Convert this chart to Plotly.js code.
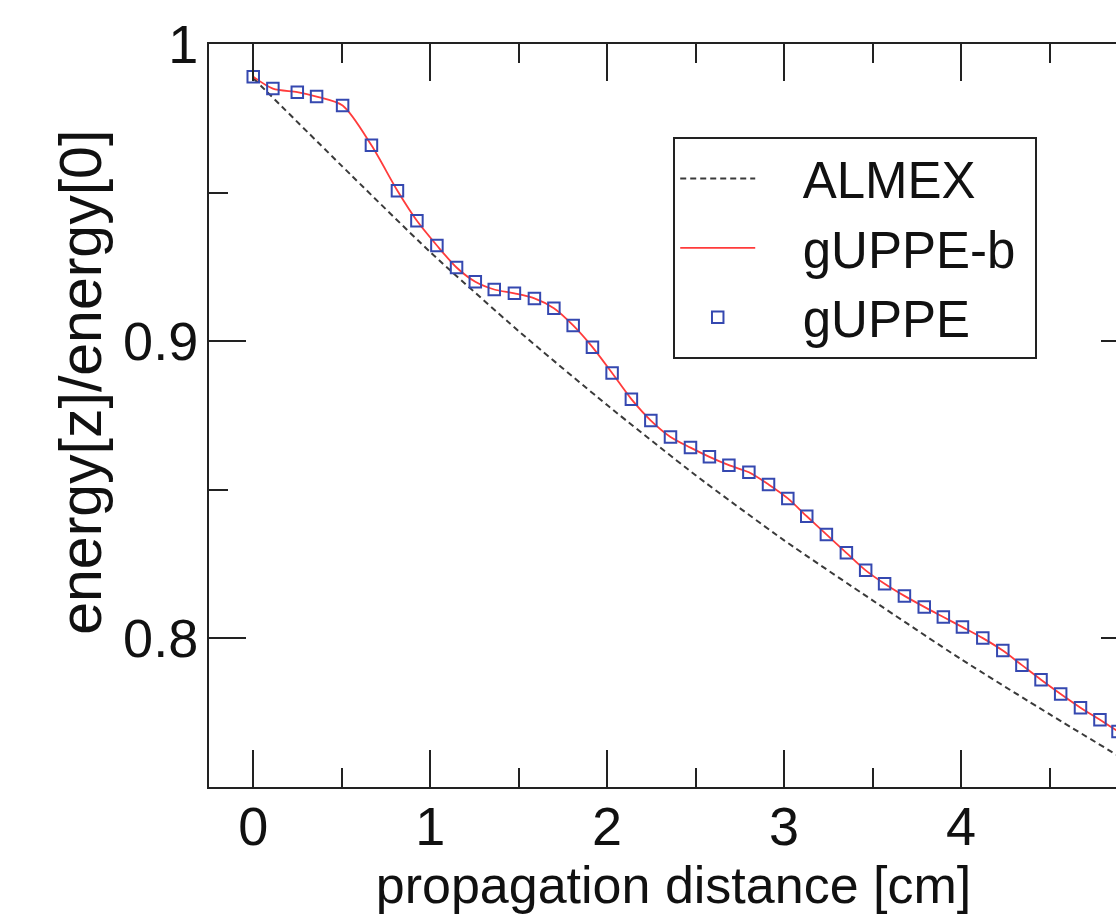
<!DOCTYPE html>
<html>
<head>
<meta charset="utf-8">
<script src="https://cdn.plot.ly/plotly-3.0.1.min.js"></script>
<style>
html,body{margin:0;padding:0;overflow:hidden;background:#fff;}
#chart{width:1200px;height:918px;}
</style>
</head>
<body>
<div id="chart"></div>
<script>
// ALMEX (dashed)
const almexX = [0, 0.5, 1.0, 1.5, 2.0, 2.5, 3.0, 3.5, 4.0, 4.5, 5.0];
const almexY = [0.9885, 0.9590, 0.9300, 0.9034, 0.8785, 0.8549, 0.8330, 0.8128, 0.7930, 0.7745, 0.7565];

// gUPPE-b (solid red)
const guppebX = [0, 0.111, 0.249, 0.358, 0.505, 0.668, 0.815, 0.925, 1.038, 1.149, 1.255, 1.362, 1.476, 1.589, 1.699, 1.808, 1.917, 2.028, 2.137, 2.247, 2.358, 2.471, 2.578, 2.688, 2.801, 2.912, 3.021, 3.128, 3.239, 3.352, 3.461, 3.568, 3.680, 3.792, 3.900, 4.008, 4.123, 4.236, 4.344, 4.452, 4.563, 4.675, 4.785, 4.887, 5.0];
const guppebY = [0.9890, 0.9850, 0.9838, 0.9823, 0.9793, 0.9659, 0.9506, 0.9405, 0.9322, 0.9248, 0.9200, 0.9174, 0.9161, 0.9144, 0.9111, 0.9053, 0.8980, 0.8893, 0.8805, 0.8733, 0.8678, 0.8642, 0.8611, 0.8583, 0.8559, 0.8518, 0.8471, 0.8411, 0.8350, 0.8288, 0.8229, 0.8184, 0.8143, 0.8106, 0.8072, 0.8038, 0.8001, 0.7959, 0.7910, 0.7861, 0.7813, 0.7767, 0.7726, 0.7687, 0.7648];

// gUPPE (open squares)
const guppeX = [0, 0.111, 0.249, 0.358, 0.505, 0.668, 0.815, 0.925, 1.038, 1.149, 1.255, 1.362, 1.476, 1.589, 1.699, 1.808, 1.917, 2.028, 2.137, 2.247, 2.358, 2.471, 2.578, 2.688, 2.801, 2.912, 3.021, 3.128, 3.239, 3.352, 3.461, 3.568, 3.680, 3.792, 3.900, 4.008, 4.123, 4.236, 4.344, 4.452, 4.563, 4.675, 4.785, 4.887];
const guppeY = [0.9890, 0.9850, 0.9838, 0.9823, 0.9793, 0.9659, 0.9506, 0.9405, 0.9322, 0.9248, 0.9200, 0.9174, 0.9161, 0.9144, 0.9111, 0.9053, 0.8980, 0.8893, 0.8805, 0.8733, 0.8678, 0.8642, 0.8611, 0.8583, 0.8559, 0.8518, 0.8471, 0.8411, 0.8350, 0.8288, 0.8229, 0.8184, 0.8143, 0.8106, 0.8072, 0.8038, 0.8001, 0.7959, 0.7910, 0.7861, 0.7813, 0.7767, 0.7726, 0.7687];

const seriesNames = ["ALMEX", "gUPPE-b", "gUPPE"];
const xTickVals = [0, 1, 2, 3, 4];
const yTickVals = [0.8, 0.9, 1.0];
const yTickText = ["0.8", "0.9", "1"];
const xTitle = "propagation distance [cm]";
const yTitle = "energy[z]/energy[0]";

const FONT = "Liberation Sans, Arial, Helvetica, sans-serif";
const PAD = "\u00a0\u00a0\u00a0";
const TAIL = "\u00a0";

const traces = [
  {x: almexX, y: almexY, name: PAD + seriesNames[0] + TAIL, type: "scatter", mode: "lines",
   line: {color: "#3a3a3a", width: 2, dash: "6px,4px", shape: "spline", smoothing: 0.6}},
  {x: guppebX, y: guppebY, name: PAD + seriesNames[1] + TAIL, type: "scatter", mode: "lines",
   line: {color: "#ff3b3b", width: 1.8, shape: "spline", smoothing: 0.8}},
  {x: guppeX, y: guppeY, name: PAD + seriesNames[2] + TAIL, type: "scatter", mode: "markers",
   marker: {symbol: "square-open", size: 11.5, color: "#3548b0", line: {width: 2, color: "#3548b0"}}}
];

const axisCommon = {
  showline: true, linecolor: "#222", linewidth: 2, mirror: "allticks",
  ticks: "inside", ticklen: 37, tickwidth: 2, tickcolor: "#222",
  showgrid: false, zeroline: false,
  tickfont: {family: FONT, size: 54, color: "#111"}
};

const layout = {
  width: 1200, height: 918,
  margin: {l: 208.5, r: 62, t: 44, b: 131},
  paper_bgcolor: "#fff", plot_bgcolor: "#fff",
  font: {family: FONT, color: "#111"},
  showlegend: true,
  legend: {
    x: 0.4997, y: 0.875, xanchor: "left", yanchor: "top",
    bordercolor: "#222", borderwidth: 2, bgcolor: "#fff",
    font: {family: FONT, size: 51, color: "#111"},
    itemwidth: 75
  },
  xaxis: Object.assign({}, axisCommon, {
    range: [-0.25, 5.0], tickvals: xTickVals,
    minor: {ticks: "inside", ticklen: 19, tickwidth: 2, tickcolor: "#222", dtick: 0.5, tick0: 0, showgrid: false},
    ticklabelstandoff: -9,
    title: {text: xTitle, font: {family: FONT, size: 52, color: "#111"}, standoff: 0}
  }),
  yaxis: Object.assign({}, axisCommon, {
    range: [0.75, 1.0], tickvals: yTickVals, ticktext: yTickText,
    minor: {ticks: "inside", ticklen: 19, tickwidth: 2, tickcolor: "#222", dtick: 0.05, tick0: 0.75, showgrid: false},
    ticklabelstandoff: -2
  }),
  annotations: [{
    text: yTitle, textangle: -90, showarrow: false,
    xref: "paper", yref: "paper", x: -0.138, y: 0.5451,
    xanchor: "center", yanchor: "middle",
    font: {family: FONT, size: 59, color: "#111"}
  }]
};

Plotly.newPlot("chart", traces, layout, {displayModeBar: false, staticPlot: true});
</script>
</body>
</html>
